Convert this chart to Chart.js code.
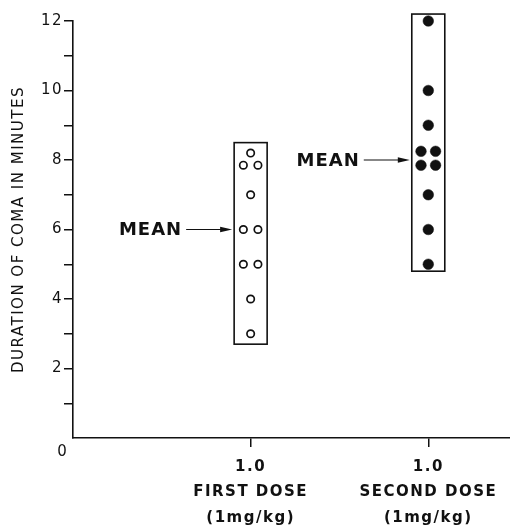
<!DOCTYPE html>
<html>
<head>
<meta charset="utf-8">
<script src="https://cdn.jsdelivr.net/npm/chart.js@4"></script>
<style>
  html, body { margin: 0; padding: 0; background: #fff; }
  canvas { display: block; }
</style>
</head>
<body>
<canvas id="comaChart" width="510" height="527"></canvas>
<script>
// dose groups on the x axis
const doseX = [1, 2];
const doseLabels = [
  ['1.0', 'FIRST DOSE', '(1mg/kg)'],
  ['1.0', 'SECOND DOSE', '(1mg/kg)']
];

// duration of coma (minutes), one entry per animal
const firstDoseMinutes = [8.2, 7.85, 7.85, 7, 6, 6, 5, 5, 4, 3];
const firstDoseSide = [0, -1, 1, 0, -1, 1, -1, 1, 0, 0];
const secondDoseMinutes = [12, 10, 9, 8.25, 8.25, 7.85, 7.85, 7, 6, 5];
const secondDoseSide = [0, 0, 0, -1, 1, -1, 1, 0, 0, 0];

// range boxes and means
const boxLow = [2.7, 4.8];
const boxHigh = [8.5, 12.2];
const meanMinutes = [6, 8];

const yTicks = [0, 2, 4, 6, 8, 10, 12];

const ink = '#111';
const jitter = 0.041;

const toPoints = (vals, sides, dose) => vals.map((v, i) => ({ x: dose + sides[i] * jitter, y: v }));

const overlay = {
  id: 'overlay',
  beforeDraw(chart) {
    chart.ctx.letterSpacing = '1.5px';
  },
  beforeDatasetsDraw(chart) {
    const { ctx, scales: { x, y } } = chart;
    ctx.save();
    ctx.letterSpacing = '0px';
    ctx.strokeStyle = ink;
    ctx.lineWidth = 1.6;
    doseX.forEach((d, i) => {
      const xc = x.getPixelForValue(d);
      const top = y.getPixelForValue(boxHigh[i]);
      const bottom = y.getPixelForValue(boxLow[i]);
      ctx.strokeRect(xc - 16.5, top, 33, bottom - top);
    });
    ctx.restore();
  },
  afterDatasetsDraw(chart) {
    const { ctx, scales: { x, y } } = chart;
    ctx.save();
    ctx.fillStyle = ink;
    ctx.strokeStyle = ink;
    doseX.forEach((d, i) => {
      const boxLeft = x.getPixelForValue(d) - 16.5;
      const yy = y.getPixelForValue(meanMinutes[i]);
      // label
      ctx.letterSpacing = '1px';
      ctx.font = 'bold 18px "DejaVu Sans"';
      ctx.textAlign = 'right';
      ctx.textBaseline = 'middle';
      ctx.fillText('MEAN', boxLeft - 52, yy + 1);
      // arrow
      ctx.lineWidth = 1.2;
      ctx.beginPath();
      ctx.moveTo(boxLeft - 48, yy);
      ctx.lineTo(boxLeft - 10, yy);
      ctx.stroke();
      ctx.beginPath();
      ctx.moveTo(boxLeft - 2, yy);
      ctx.lineTo(boxLeft - 14, yy - 2.8);
      ctx.lineTo(boxLeft - 14, yy + 2.8);
      ctx.closePath();
      ctx.fill();
    });
    // origin label
    ctx.letterSpacing = '0px';
    ctx.font = '15px "DejaVu Sans"';
    ctx.textAlign = 'center';
    ctx.textBaseline = 'middle';
    ctx.fillText('0', x.getPixelForValue(0) - 11, y.getPixelForValue(0) + 14);
    ctx.restore();
  }
};

new Chart(document.getElementById('comaChart'), {
  type: 'scatter',
  data: {
    datasets: [
      {
        label: 'First dose',
        data: toPoints(firstDoseMinutes, firstDoseSide, doseX[0]),
        pointStyle: 'circle',
        pointRadius: 3.7,
        pointBorderWidth: 1.7,
        pointBackgroundColor: '#fff',
        pointBorderColor: ink,
        clip: false
      },
      {
        label: 'Second dose',
        data: toPoints(secondDoseMinutes, secondDoseSide, doseX[1]),
        pointStyle: 'circle',
        pointRadius: 5.3,
        pointBorderWidth: 0.5,
        pointBackgroundColor: ink,
        pointBorderColor: ink,
        clip: false
      }
    ]
  },
  options: {
    responsive: false,
    animation: false,
    layout: { autoPadding: false, padding: { top: 21, right: 0, left: 0, bottom: 0 } },
    plugins: {
      legend: { display: false },
      tooltip: { enabled: false }
    },
    scales: {
      x: {
        type: 'linear',
        min: 0,
        max: 2.46,
        afterBuildTicks: (scale) => { scale.ticks = doseX.map(v => ({ value: v })); },
        afterFit: (scale) => {
          scale.height = 89;
          scale.paddingLeft = 0;
          scale.paddingRight = 0;
        },
        grid: { drawOnChartArea: false, tickLength: 9, color: ink, lineWidth: 1.5 },
        border: { color: ink, width: 1.6 },
        ticks: {
          autoSkip: false,
          maxRotation: 0,
          padding: 8,
          color: ink,
          font: { family: '"DejaVu Sans"', size: 15, weight: 'bold', lineHeight: 1.67 },
          callback: (v, i) => doseLabels[i]
        }
      },
      y: {
        min: 0,
        max: 12,
        afterFit: (scale) => { scale.width = 73; },
        grid: {
          drawOnChartArea: false,
          tickLength: 9,
          lineWidth: 1.5,
          color: (c) => (c.tick && c.tick.value === 0 ? 'rgba(0,0,0,0)' : ink)
        },
        border: { color: ink, width: 1.6 },
        ticks: {
          stepSize: 1,
          padding: 1,
          color: ink,
          font: { family: '"DejaVu Sans"', size: 15 },
          callback: (v) => (yTicks.includes(v) && v !== 0 ? String(v) : '')
        },
        title: {
          display: true,
          text: 'DURATION OF COMA IN MINUTES',
          color: '#111',
          font: { family: '"DejaVu Sans"', size: 15 },
          padding: { top: 10, bottom: 0 }
        }
      }
    }
  },
  plugins: [overlay]
});
</script>
</body>
</html>
